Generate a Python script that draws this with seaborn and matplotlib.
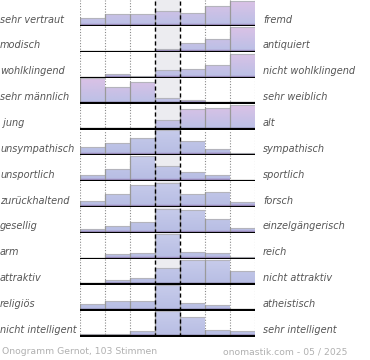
import numpy as np
import pandas as pd
import matplotlib
matplotlib.use('Agg')
import matplotlib.pyplot as plt
from matplotlib.colors import LinearSegmentedColormap
import seaborn as sns

left_labels = ["sehr vertraut", "modisch", "wohlklingend", "sehr männlich", " jung",
               "unsympathisch", "unsportlich", "zurückhaltend", "gesellig", "arm",
               "attraktiv", "religiös", "nicht intelligent"]
right_labels = ["fremd", "antiquiert", "nicht wohlklingend", "sehr weiblich", "alt",
                "sympathisch", "sportlich", "forsch", "einzelgängerisch", "reich",
                "nicht attraktiv", "atheistisch", "sehr intelligent"]

# relative vote share per scale step (1..7)
values = [
    [7.7, 12.3, 12.3, 14.7, 13.3, 20.3, 24.5],
    [0, 0, 0, 3.3, 9.3, 13.3, 24.5],
    [0, 3.7, 1.7, 8, 8.7, 12.7, 24],
    [25, 16.7, 21.7, 5.7, 4, 0, 0],
    [0, 1.2, 1.2, 9.7, 20.7, 21.7, 24.7],
    [8.3, 12.3, 17.7, 25, 14.3, 6, 2.7],
    [6.3, 12.3, 25, 15, 9, 6, 0],
    [5.7, 13, 21.7, 24, 13, 15, 5],
    [3.7, 7.3, 10.7, 24.3, 23, 14.3, 5],
    [0, 4.7, 5.7, 25, 6.7, 5.7, 2.3],
    [0, 5, 7, 16.3, 24.7, 24.7, 13.7],
    [6.7, 9.3, 9.3, 25, 7.7, 6, 0],
    [2.3, 2.3, 5, 25, 19.3, 6.7, 5],
]
steps = [1, 2, 3, 4, 5, 6, 7]
pink_rows = [True] * 5 + [False] * 8

footer_left = "Onogramm Gernot, 103 Stimmen"
footer_right = "onomastik.com - 05 / 2025"

sns.set_style("white")
plt.rcParams['font.family'] = ['DejaVu Sans']

fig = plt.figure(figsize=(3.7, 3.6), dpi=100)
axes = fig.subplots(len(values), 1, gridspec_kw=dict(hspace=0))
fig.subplots_adjust(left=80 / 370, right=255 / 370, top=1 - 0.3 / 360, bottom=1 - 336.5 / 360)

ymax = 25.6
band = np.linspace(0, 1, 200)

for i, ax in enumerate(axes):
    df = pd.DataFrame({'step': steps, 'val': values[i]})
    sns.barplot(data=df, x='step', y='val', ax=ax, width=1, color='#c0c4e8',
                linewidth=0, saturation=1, zorder=2)
    bars = list(ax.patches)
    ax.set_xlim(-0.5, 6.5)
    ax.set_ylim(0, ymax)
    ax.axvspan(2.5, 3.5, color='#ececf0', zorder=0, lw=0)

    if pink_rows[i]:
        cmap = LinearSegmentedColormap.from_list('g', [(0, '#a898cc'), (0.07, '#a898cc'),
                                                        (0.09, '#bcc0e6'), (1, '#dcc2e6')])
    else:
        cmap = LinearSegmentedColormap.from_list('g', [(0, '#a898cc'), (0.07, '#a898cc'),
                                                        (0.09, '#b8bee4'), (1, '#c8cceb')])
    for p in bars:
        if p.get_height() <= 0:
            continue
        im = ax.imshow(band[::-1, None], cmap=cmap, aspect='auto',
                       extent=(-0.5, 6.5, 0, ymax), zorder=2.5, interpolation='bilinear')
        im.set_clip_path(p)
        x0, w, h = p.get_x(), p.get_width(), p.get_height()
        ax.plot([x0, x0 + w], [h, h], color='#b4b4bc', lw=0.8, zorder=3)
        ax.plot([x0, x0], [0, h], color='#9a9a9a', lw=0.9, zorder=3)
    ax.set_xlim(-0.5, 6.5)
    ax.set_ylim(0, ymax)

    for xb in [-0.5, 0.5, 1.5, 4.5, 5.5, 6.5]:
        ax.axvline(xb, color='#8a8a8a', ls=(0, (1, 1.5)), lw=0.8, zorder=1)
    for xb in [2.5, 3.5]:
        ax.axvline(xb, color='black', ls=(0, (3, 2)), lw=1.0, zorder=4)
    ax.axhline(0.3, color='black', lw=1.6, zorder=5)

    ax.set_xticks([])
    ax.set_yticks([])
    ax.set_xlabel('')
    ax.set_ylabel('')
    sns.despine(ax=ax, left=True, bottom=True)

    ax.text(-0.5 - 80 / 25, 6.5, left_labels[i], ha='left', va='center',
            fontsize=7, style='italic', color='#555555')
    ax.text(6.5 + 8 / 25, 6.5, right_labels[i], ha='left', va='center',
            fontsize=7, style='italic', color='#555555')

fig.text(2 / 370, 1 - 352 / 360, footer_left, ha='left', va='center', fontsize=6.7, color='#b0b0b0')
fig.text(347 / 370, 1 - 352 / 360, footer_right, ha='right', va='center', fontsize=6.7, color='#b0b0b0')

fig.savefig('out.png', dpi=100)
